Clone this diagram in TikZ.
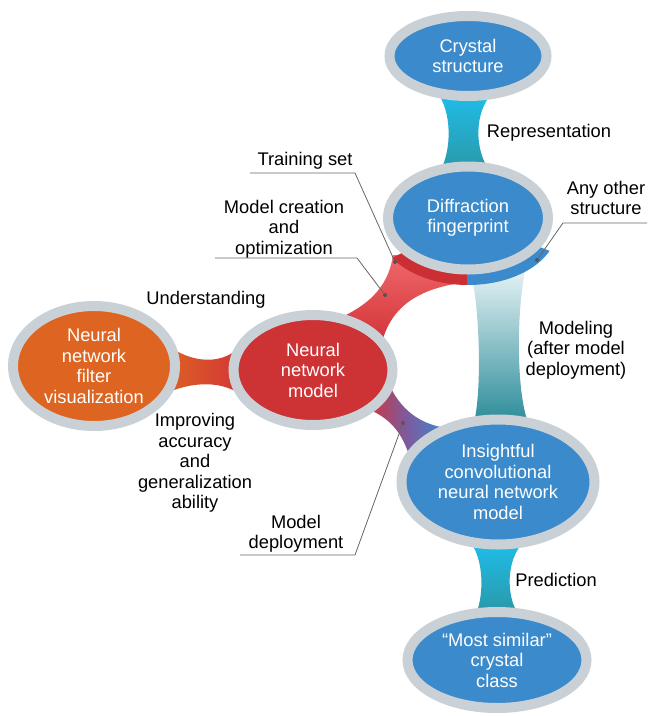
\documentclass[tikz,border=0pt]{standalone}
\usepackage{fontspec}
\setmainfont{Liberation Sans}
\usetikzlibrary{shapes.geometric}
\usetikzlibrary{calc}
\usetikzlibrary{backgrounds}

\definecolor{ringgray}{HTML}{C9D1D6}
\definecolor{ballblue}{HTML}{3B8ACB}
\definecolor{ballred}{HTML}{CD3234}
\definecolor{ballorange}{HTML}{DD6521}
\definecolor{bandred}{HTML}{CC2F33}
\definecolor{funred}{HTML}{D23438}
\definecolor{funpink}{HTML}{F0686B}
\definecolor{funpurple}{HTML}{7E5A9E}
\definecolor{cyanbr}{HTML}{1EBEEA}
\definecolor{tealbr}{HTML}{2B97A7}
\definecolor{modtop}{HTML}{EEF7F9}
\definecolor{modteal}{HTML}{2B8C99}
\definecolor{leadgray}{HTML}{666666}
\definecolor{dotgray}{HTML}{555555}

\begin{document}
\begin{tikzpicture}[x=1pt,y=-1pt,font=\fontsize{18.3}{20.5}\selectfont]
	\tikzstyle{ball}=[shape=ellipse,draw=ringgray,line width=10pt,inner sep=0pt,align=center,text=white]
	\tikzstyle{lbl}=[align=center,inner sep=0pt,text=black]
	\tikzstyle{leader}=[draw=leadgray,line width=0.8pt]
	\tikzstyle{dot}=[circle,fill=dotgray,inner sep=0pt,minimum size=4pt]
	
	\useasboundingbox (0,0) rectangle (649,716);
	
	\node[ball,fill=ballblue,minimum width=157pt,minimum height=80pt]    (cryst) at (468,56)  {Crystal\\structure};
	\node[ball,fill=ballblue,minimum width=160pt,minimum height=103pt]   (diff)  at (468,218) {Diffraction\\fingerprint};
	\node[ball,fill=ballred,minimum width=159pt,minimum height=110pt]    (nnm)   at (313,370) {Neural\\network\\model};
	\node[ball,fill=ballorange,minimum width=162pt,minimum height=120pt] (filt)  at (94,366)  {Neural\\network\\filter\\visualization};
	\node[ball,fill=ballblue,minimum width=193pt,minimum height=125pt]   (cnn)   at (498,482) {Insightful\\convolutional\\neural network\\model};
	\node[ball,fill=ballblue,minimum width=179pt,minimum height=96pt]    (pred)  at (497,660) {“Most similar”\\crystal\\class};
	
	\node[lbl] (lblRep)   at (549,133) {Representation};
	\node[lbl] (lblTrain) at (305,161) {Training set};
	\node[lbl] (lblModel) at (284,229) {Model creation\\and\\optimization};
	\node[lbl] (lblUnd)   at (206,300) {Understanding};
	\node[lbl] (lblAny)   at (606,198) {Any other\\structure};
	\node[lbl] (lblMod)   at (576,350) {Modeling\\(after model\\deployment)};
	\node[lbl] (lblImp)   at (195,463) {Improving\\accuracy\\and\\generalization\\ability};
	\node[lbl] (lblDep)   at (296,534) {Model\\deployment};
	\node[lbl] (lblPred)  at (556,580) {Prediction};
	
	% leaders
	\node[dot] (tsdot) at (395,262) {};
	\node[dot] (mcdot) at (385,295) {};
	\node[dot] (aodot) at (537,260) {};
	\node[dot] (mddot) at (403,423) {};
	\coordinate (tsA) at (250,173);
	\coordinate (tsB) at (355,173);
	\coordinate (mcA) at (215,258);
	\coordinate (mcB) at (357,258);
	\coordinate (aoA) at (647,223);
	\coordinate (aoB) at (563,223);
	\coordinate (mdA) at (240,555);
	\coordinate (mdB) at (355,555);
	\draw[leader] (tsA) -- (tsB) -- (tsdot);
	\draw[leader] (mcA) -- (mcB) -- (mcdot);
	\draw[leader] (aoA) -- (aoB) -- (aodot);
	\draw[leader] (mdA) -- (mdB) -- (mddot);
	
	\begin{pgfonlayer}{background}
		% bridges
		\shade[top color=cyanbr,bottom color=tealbr] ($(cryst.south)+(-31,-9)$) .. controls +(15,20) and +(12,-22) .. ($(diff.north)+(-28,10)$) -- ($(diff.north)+(22,10)$) .. controls +(-16,-22) and +(-19,20) .. ($(cryst.south)+(25,-9)$) -- cycle;
		\shade[top color=modtop,bottom color=modteal] ($(diff.south)+(2,-6)$) .. controls +(10,37) and +(8,-32) .. ($(cnn.north)+(-24,8)$) -- ($(cnn.north)+(30,8)$) .. controls +(-12,-32) and +(-11,43) .. ($(diff.south)+(59,-12)$) -- cycle;
		\shade[top color=cyanbr,bottom color=tealbr] ($(cnn.south)+(-28,-8)$) .. controls +(14,18) and +(8,-19) .. ($(pred.north)+(-21,7)$) -- ($(pred.north)+(21,7)$) .. controls +(-12,-19) and +(-18,18) .. ($(cnn.south)+(26,-8)$) -- cycle;
		\shade[left color=ballorange,right color=funred] ($(filt.east)+(-20,-26)$) .. controls +(32,26) and +(-20,24) .. ($(nnm.west)+(16.5,-28)$) -- ($(nnm.west)+(16.5,28)$) .. controls +(-20,-18) and +(32,-16) .. ($(filt.east)+(-20,30)$) -- cycle;
		% funnels
		\shade[top color=funpink,bottom color=funred] ($(diff.center)+(-75,37)$) .. controls +(-5,35) and +(25,-12) .. ($(nnm.north)+(27,8)$) -- ($(nnm.east)+(-15.5,-28)$) .. controls +(10,-37) and +(-47,6) .. ($(diff.south)+(-1,7.5)$) -- ($(diff.center)+(-28,37)$) -- cycle;
		\shade[left color=funred,right color=ballblue,middle color=funpurple] ($(nnm.east)+(-9.5,12)$) .. controls +(12,28) and +(-26,-4) .. ($(cnn.west)+(49.5,-54)$) -- ($(cnn.west)+(13.5,-24)$) .. controls +(-8,-26) and +(24,10) .. ($(nnm.east)+(-31.5,38)$) -- cycle;
		% band under the fingerprint
		\begin{scope}
			\clip (diff.center) -- ++(-108,57) -- ++(0,40) -- ++(107,0) -- cycle;
			\fill[bandred] ($(diff.center)+(0,10)$) ellipse [x radius=89pt,y radius=57pt];
		\end{scope}
		\begin{scope}
			\clip ($(diff.center)+(-1,0)$) -- ++(0,97) -- ++(108,0) -- ++(0,-54) -- cycle;
			\fill[ballblue] ($(diff.center)+(0,10)$) ellipse [x radius=89pt,y radius=57pt];
		\end{scope}
	\end{pgfonlayer}
\end{tikzpicture}
\end{document}
